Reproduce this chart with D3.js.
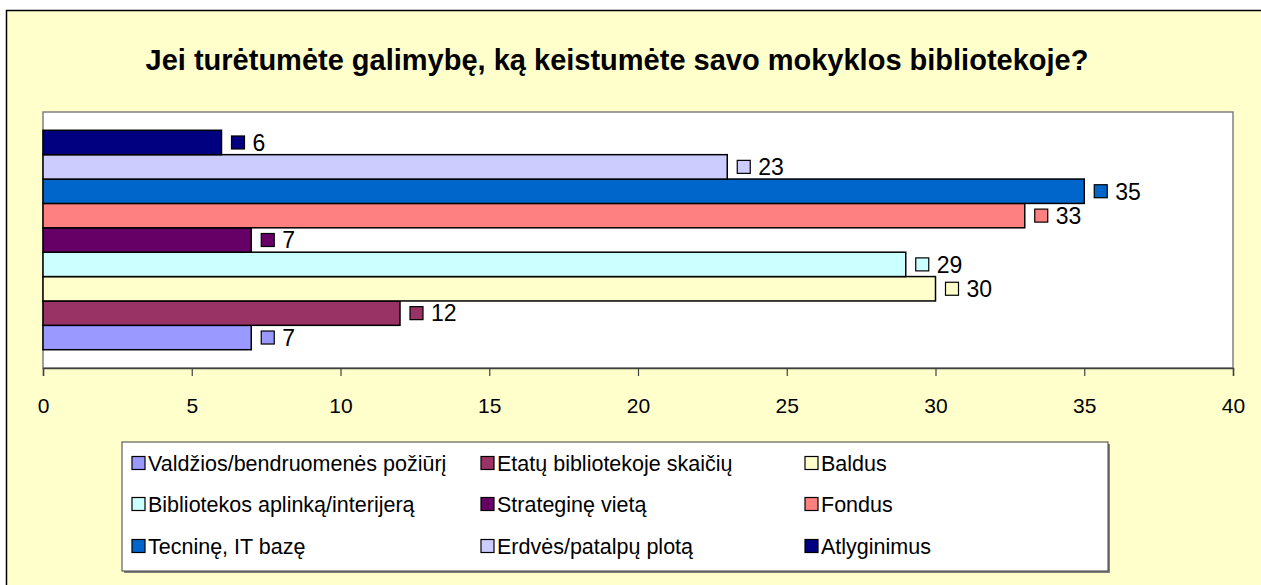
<!DOCTYPE html>
<html>
<head>
<meta charset="utf-8">
<script src="https://cdn.jsdelivr.net/npm/d3@7"></script>
<style>
  body { margin: 0; background: #fff; }
  svg text { font-family: "Liberation Sans", Arial, sans-serif; }
</style>
</head>
<body>
<svg id="chart" width="1261" height="585"></svg>
<script>
var title = "Jei turėtumėte galimybę, ką keistumėte savo mokyklos bibliotekoje?";

// series in legend order
var categories = [
  "Valdžios/bendruomenės požiūrį",
  "Etatų bibliotekoje skaičių",
  "Baldus",
  "Bibliotekos aplinką/interijerą",
  "Strateginę vietą",
  "Fondus",
  "Tecninę, IT bazę",
  "Erdvės/patalpų plotą",
  "Atlyginimus"
];
var values = [7, 12, 30, 29, 7, 33, 35, 23, 6];
var colors = ["#9999FF", "#993366", "#FFFFCC", "#CCFFFF", "#660066", "#FF8080", "#0066CC", "#CCCCFF", "#000080"];
var tickValues = [0, 5, 10, 15, 20, 25, 30, 35, 40];

var svg = d3.select("#chart");

// chart area background + frame
svg.append("rect")
  .attr("x", 6.5).attr("y", 10.5)
  .attr("width", 1262).attr("height", 590)
  .attr("fill", "#FFFFCC")
  .attr("stroke", "#000")
  .attr("stroke-width", 1.5);

svg.append("text")
  .attr("x", 617).attr("y", 70)
  .attr("text-anchor", "middle")
  .style("font-size", "29px")
  .style("font-weight", "bold")
  .text(title);

var plot = { left: 43, top: 112, right: 1233, bottom: 368 };

var x = d3.scaleLinear().domain([0, 40]).range([plot.left, plot.right]);

// top bar is the last series
var y = d3.scaleBand()
  .domain(d3.range(categories.length).reverse())
  .range([plot.top, plot.bottom])
  .paddingOuter(0.75)
  .paddingInner(0);

svg.append("rect")
  .attr("x", plot.left).attr("y", plot.top)
  .attr("width", plot.right - plot.left).attr("height", plot.bottom - plot.top)
  .attr("fill", "#fff")
  .attr("stroke", "#808080")
  .attr("stroke-width", 1.5);

var xAxis = d3.axisBottom(x)
  .tickValues(tickValues)
  .tickSize(8)
  .tickPadding(22)
  .tickFormat(d3.format("d"));

var gx = svg.append("g")
  .attr("transform", "translate(0," + plot.bottom + ")")
  .call(xAxis);
gx.select(".domain").attr("stroke", "#404040").attr("stroke-width", 1.5);
gx.selectAll(".tick line").attr("stroke", "#404040").attr("stroke-width", 1.2);
gx.selectAll(".tick text")
  .attr("fill", "#000")
  .style("font-size", "21px")
  .style("font-family", "'Liberation Sans', Arial, sans-serif");

var idx = d3.range(categories.length);

svg.append("g").selectAll("rect")
  .data(idx)
  .enter()
  .append("rect")
  .attr("x", x(0))
  .attr("y", function (i) { return y(i); })
  .attr("width", function (i) { return x(values[i]) - x(0); })
  .attr("height", y.bandwidth())
  .attr("fill", function (i) { return colors[i]; })
  .attr("stroke", "#000")
  .attr("stroke-width", 1.5);

// value labels with small legend key
var lab = svg.append("g").selectAll("g")
  .data(idx)
  .enter()
  .append("g")
  .attr("transform", function (i) {
    return "translate(" + x(values[i]) + "," + (y(i) + y.bandwidth() / 2) + ")";
  });
lab.append("rect")
  .attr("x", 10).attr("y", -6.5)
  .attr("width", 13).attr("height", 13)
  .attr("fill", function (i) { return colors[i]; })
  .attr("stroke", "#000")
  .attr("stroke-width", 1.2);
lab.append("text")
  .attr("x", 31).attr("y", 0)
  .attr("dy", "0.36em")
  .style("font-size", "23px")
  .text(function (i) { return values[i]; });

// legend
var legend = { left: 122, top: 442, right: 1108, bottom: 571 };
svg.append("rect")
  .attr("x", legend.left + 2).attr("y", legend.top + 2)
  .attr("width", legend.right - legend.left).attr("height", legend.bottom - legend.top)
  .attr("fill", "#808080");
svg.append("rect")
  .attr("x", legend.left).attr("y", legend.top)
  .attr("width", legend.right - legend.left).attr("height", legend.bottom - legend.top)
  .attr("fill", "#fff")
  .attr("stroke", "#404040")
  .attr("stroke-width", 1);

var colX = [132, 481, 805];
var rowY = [463, 504, 546];

var items = svg.append("g").selectAll("g")
  .data(idx)
  .enter()
  .append("g")
  .attr("transform", function (i) {
    return "translate(" + colX[i % 3] + "," + rowY[Math.floor(i / 3)] + ")";
  });
items.append("rect")
  .attr("x", 0).attr("y", -6.5)
  .attr("width", 13).attr("height", 13)
  .attr("fill", function (i) { return colors[i]; })
  .attr("stroke", "#000")
  .attr("stroke-width", 1.2);
items.append("text")
  .attr("x", 16).attr("y", 0)
  .attr("dy", "0.36em")
  .style("font-size", "21.5px")
  .text(function (i) { return categories[i]; });
</script>
</body>
</html>
